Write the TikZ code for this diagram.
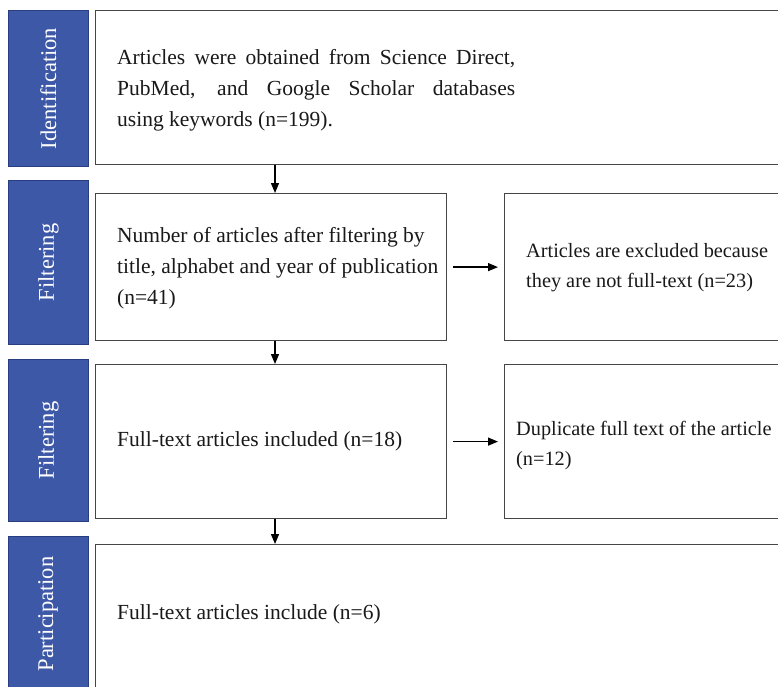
\documentclass[tikz,border=0pt]{standalone}
\usepackage{fontspec}
\setmainfont{Liberation Serif}
\usetikzlibrary{arrows.meta}
\definecolor{barblue}{RGB}{62,88,168}
\definecolor{barline}{RGB}{40,62,128}
\definecolor{boxline}{RGB}{70,70,70}
\tikzset{
  bar/.style={draw=barline, line width=0.8pt, fill=barblue, anchor=north west, inner sep=0pt},
  bartext/.style={text=white, rotate=90, font=\fontsize{22.5}{26}\selectfont},
  box/.style={draw=boxline, line width=1.2pt, fill=white, anchor=north west, inner sep=0pt},
  txt/.style={anchor=west, align=left, inner sep=0pt, font=\fontsize{21.5}{31}\selectfont, text=black!90},
  rtxt/.style={txt, font=\fontsize{20.3}{30}\selectfont},
  arr/.style={-{Triangle[length=10pt,width=8pt]}, line width=1.3pt, black}
}
\begin{document}
\begin{tikzpicture}[x=1pt,y=-1pt]
\useasboundingbox (0,0) rectangle (778,686);
\clip (0,0) rectangle (778,686);
% blue side bars
\node[bar, minimum width=80pt, minimum height=156pt] (b1) at (8,10) {};
\node[bar, minimum width=80pt, minimum height=164pt] (b2) at (8,180) {};
\node[bar, minimum width=80pt, minimum height=162pt] (b3) at (8,359) {};
\node[bar, minimum width=80pt, minimum height=160pt] (b4) at (8,536) {};
\node[bartext] (t1) at (b1.center) {Identification};
\node[bartext] (t2) at (b2.center) {Filtering};
\node[bartext] (t3) at (b3.center) {Filtering};
\node[bartext] (t4) at (48,614) {Participation};
% boxes
\node[box, minimum width=700pt, minimum height=154pt] (id) at (95,10) {};
\node[box, minimum width=351pt, minimum height=147pt] (f1) at (95,193) {};
\node[box, minimum width=290pt, minimum height=147pt] (r1) at (504,193) {};
\node[box, minimum width=351pt, minimum height=154pt] (f2) at (95,364) {};
\node[box, minimum width=290pt, minimum height=154pt] (r2) at (504,364) {};
\node[box, minimum width=700pt, minimum height=160pt] (p) at (95,544) {};
% texts
\node[txt] (idt) at (117,90) {\makebox[398pt][s]{Articles were obtained from Science Direct,}\\
\makebox[398pt][s]{PubMed, and Google Scholar databases}\\
using keywords (n=199).};
\node[txt] (f1t) at (117,268) {Number of articles after filtering by\\
title, alphabet and year of publication\\
(n=41)};
\node[rtxt] (r1t) at (526,268) {Articles are excluded because\\
they are not full-text (n=23)};
\node[txt] (f2t) at (117,441) {Full-text articles included (n=18)};
\node[rtxt] (r2t) at (516,446) {Duplicate full text of the article\\
(n=12)};
\node[txt] (pt) at (117,614) {Full-text articles include (n=6)};
% arrows
\coordinate (ax) at (275,0);
\draw[arr] (id.south -| ax) -- (f1.north -| ax);
\draw[arr] (f1.south -| ax) -- (f2.north -| ax);
\draw[arr] (f2.south -| ax) -- (p.north -| ax);
\draw[arr, shorten <=6pt, shorten >=6pt] (f1.east) -- (r1.west);
\draw[arr, shorten <=6pt, shorten >=6pt] (f2.east) -- (r2.west);
\end{tikzpicture}
\end{document}
